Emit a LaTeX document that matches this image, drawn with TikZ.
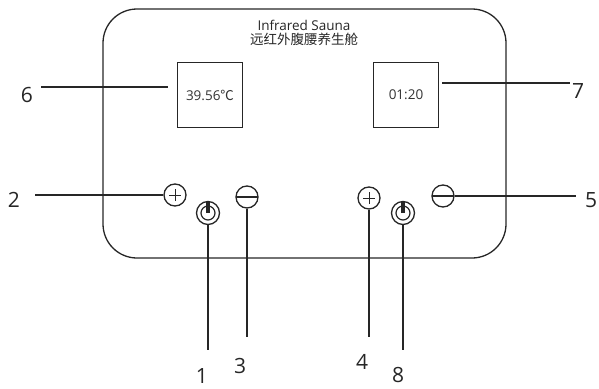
\documentclass[tikz,border=0pt]{standalone}
\usepackage{fontspec}
\setmainfont{Open Sans}
\newfontfamily\cjk{Noto Sans CJK SC}
\begin{document}
\begin{tikzpicture}[x=1pt,y=-1pt,line width=1.3pt,
  ink/.style={draw=black!85},
  btn/.style={circle,ink,minimum size=22pt,inner sep=0pt,line width=1.3pt},
  plusbtn/.style={btn,path picture={
     \draw[line width=1pt,black!85] ([xshift=-6pt]path picture bounding box.center) -- ([xshift=6pt]path picture bounding box.center);
     \draw[line width=1pt,black!85] ([yshift=-6pt]path picture bounding box.center) -- ([yshift=6pt]path picture bounding box.center);}},
  minusbtn/.style={btn,path picture={
     \draw[line width=1.3pt,black!85] ([xshift=-12pt]path picture bounding box.center) -- ([xshift=12pt]path picture bounding box.center);}},
  powerbtn/.style={btn,minimum size=23pt,path picture={
     \draw[line width=1.2pt,black!85] (path picture bounding box.center) circle[radius=7pt];
     \draw[line width=3.2pt,black!85] (path picture bounding box.center) -- ([yshift=11pt]path picture bounding box.center);}},
  screen/.style={rectangle,ink,line width=1.2pt,minimum width=65pt,minimum height=65pt,inner sep=0pt,font=\fontsize{13.5}{15}\selectfont,text=black!80},
  num/.style={font=\fontsize{21}{24}\selectfont,text=black!85,inner sep=0pt},
  lead/.style={ink,line width=1.3pt}]
\useasboundingbox (0,0) rectangle (599,388);
% panel
\draw[ink,line width=1.3pt,rounded corners=34pt] (103,9) rectangle (506,258);
\node[font=\fontsize{13.5}{15}\selectfont,text=black!85,align=center,inner sep=0pt] (title) at (304,33) {Infrared Sauna\\[-1pt]{\cjk 远红外腹腰养生舱}};
% screens
\node[screen] (temp) at (210,95) {39.56{\cjk ℃}};
\node[screen] (time) at (406,95) {01:20};
% buttons
\node[plusbtn] (plusL) at (175,195) {};
\node[powerbtn] (powL) at (208,213) {};
\node[minusbtn] (minusL) at (247,197) {};
\node[plusbtn] (plusR) at (369,198) {};
\node[powerbtn] (powR) at (403,213) {};
\node[minusbtn] (minusR) at (443,196) {};
% leader end points
\coordinate (e2) at (35,195);
\coordinate (e6a) at (41,87);
\coordinate (e6b) at (168,87);
\coordinate (e7a) at (442,83);
\coordinate (e7b) at (570,83);
\coordinate (e1) at (208,350);
\coordinate (e3) at (247,337);
\coordinate (e4) at (369,337);
\coordinate (e8) at (403,350);
\coordinate (e5) at (576,196);
\draw[lead] (e2) -- (plusL.west);
\draw[lead] (e6a) -- (e6b);
\draw[lead] (e7a) -- (e7b);
\draw[lead] (powL.south) -- (e1);
\draw[lead] (minusL.south) -- (e3);
\draw[lead] (plusR.south) -- (e4);
\draw[lead] (powR.south) -- (e8);
\draw[lead] (minusR.east) -- (e5);
% labels
\node[num] (n6) at (27,95) {6};
\node[num] (n7) at (578,91) {7};
\node[num] (n2) at (14,200) {2};
\node[num] (n5) at (591,200) {5};
\node[num] (n1) at (202,376) {1};
\node[num] (n3) at (240,366) {3};
\node[num] (n4) at (362,362) {4};
\node[num] (n8) at (398,375) {8};
\end{tikzpicture}
\end{document}
